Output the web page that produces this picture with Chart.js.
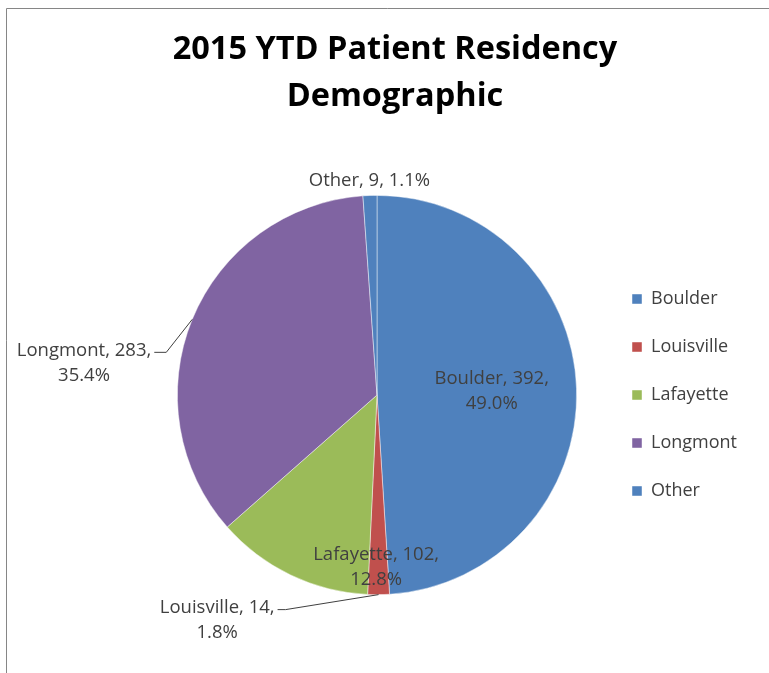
<!DOCTYPE html>
<html>
<head>
<meta charset="utf-8">
<script src="https://cdn.jsdelivr.net/npm/chart.js@4/dist/chart.umd.min.js"></script>
<style>
  html, body { margin: 0; padding: 0; background: #fff; }
  #wrap { position: relative; width: 769px; height: 673px; }
</style>
</head>
<body>
<div id="wrap"><canvas id="pie" width="769" height="673"></canvas></div>
<script>
// 2015 YTD Patient Residency Demographic - pie chart
const TITLE_LINES = ["2015 YTD Patient Residency", "Demographic"];
const CATEGORIES = ["Boulder", "Louisville", "Lafayette", "Longmont", "Other"];
const PATIENTS = [392, 14, 102, 283, 9];
const COLORS = ["#4F81BD", "#C0504D", "#9BBB59", "#8064A2", "#4F81BD"];

const TEXT = "#404040";
const FONT = "'Open Sans', Lato, sans-serif";
const total = PATIENTS.reduce((a, b) => a + b, 0);
const pct = (v) => (v / total * 100).toFixed(1) + "%";

// where each data label goes: inside along its angle, or outside with a leader line
const PLACES = [
  { kind: "in", r: 0.575 },
  { kind: "leader", elbow: [-93, 15], run: 8 },
  { kind: "in", r: 0.865, deg: 180.3 },
  { kind: "leader", elbow: [-26, 33], run: 12 },
  { kind: "in", r: 1.075, oneLine: true }
];

const frame = {
  id: "frame",
  beforeDraw(chart) {
    const c = chart.ctx;
    c.save();
    c.fillStyle = "#fff";
    c.fillRect(0, 0, chart.width, chart.height);
    c.strokeStyle = "#868686";
    c.lineWidth = 1;
    c.beginPath();
    c.moveTo(6.5, chart.height);
    c.lineTo(6.5, 8.5);
    c.lineTo(chart.width, 8.5);
    c.stroke();
    // title
    c.fillStyle = "#000";
    c.font = "bold 32.5px " + FONT;
    c.textAlign = "center";
    c.textBaseline = "middle";
    c.fillText(TITLE_LINES[0], 395, 50);
    c.fillText(TITLE_LINES[1], 395, 97);
    c.restore();
  }
};

const sliceLabels = {
  id: "sliceLabels",
  afterDatasetsDraw(chart) {
    const c = chart.ctx;
    const meta = chart.getDatasetMeta(0);
    c.save();
    c.font = "18.5px " + FONT;
    c.fillStyle = TEXT;
    c.textBaseline = "middle";
    c.textAlign = "center";
    const lh = 25;
    meta.data.forEach((arc, i) => {
      const p = arc.getProps(["x", "y", "startAngle", "endAngle", "outerRadius"], true);
      const pl = PLACES[i];
      let mid = (p.startAngle + p.endAngle) / 2;
      if (pl.deg != null) mid = pl.deg * Math.PI / 180 - Math.PI / 2;
      const line1 = CATEGORIES[i] + ", " + PATIENTS[i] + ",";
      const line2 = pct(PATIENTS[i]);
      if (pl.kind === "in") {
        const x = p.x + Math.cos(mid) * p.outerRadius * pl.r;
        const y = p.y + Math.sin(mid) * p.outerRadius * pl.r;
        if (pl.oneLine) {
          c.fillText(line1 + " " + line2, x, y);
        } else {
          c.fillText(line1, x, y - lh / 2);
          c.fillText(line2, x, y + lh / 2);
        }
      } else {
        const ex = p.x + Math.cos(mid) * p.outerRadius;
        const ey = p.y + Math.sin(mid) * p.outerRadius;
        const bx = ex + pl.elbow[0], by = ey + pl.elbow[1];
        const tx = bx - pl.run;
        c.strokeStyle = "#404040";
        c.lineWidth = 1;
        c.beginPath();
        c.moveTo(ex, ey);
        c.lineTo(bx, by);
        c.lineTo(tx, by);
        c.stroke();
        const w = c.measureText(line1).width;
        const cx = tx - 3 - w / 2;
        c.fillText(line1, cx, by - 2);
        c.fillText(line2, cx, by - 2 + lh);
      }
    });
    c.restore();
  }
};

new Chart(document.getElementById("pie"), {
  type: "pie",
  data: {
    labels: CATEGORIES,
    datasets: [{
      data: PATIENTS,
      backgroundColor: COLORS,
      borderColor: "rgba(255,255,255,0.6)",
      borderWidth: 0.75
    }]
  },
  options: {
    responsive: false,
    animation: false,
    layout: { padding: { top: 195, bottom: 78, left: 152, right: 22 } },
    plugins: {
      tooltip: { enabled: false },
      title: { display: false },
      legend: {
        position: "right",
        labels: {
          color: TEXT,
          font: { family: FONT, size: 18 },
          boxWidth: 10,
          boxHeight: 10,
          padding: 30
        }
      }
    }
  },
  plugins: [frame, sliceLabels]
});
</script>
</body>
</html>
